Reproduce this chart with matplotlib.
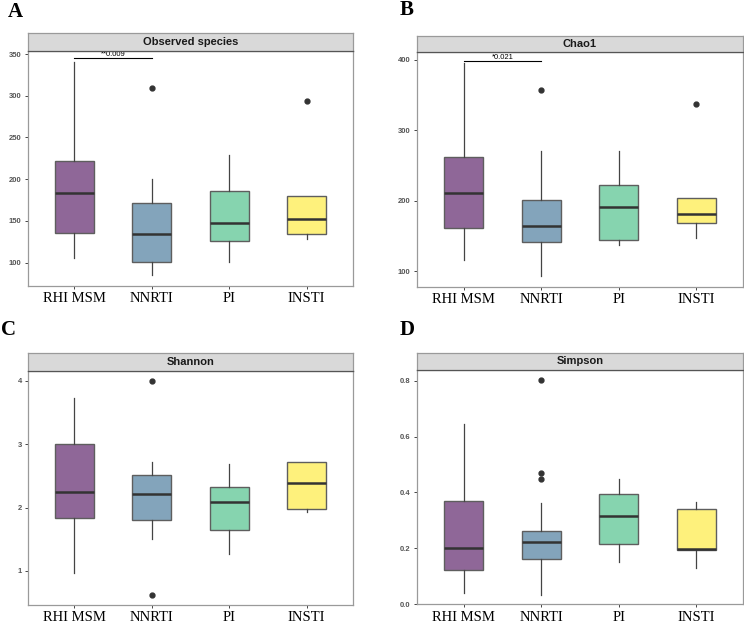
import matplotlib.pyplot as plt

groups = ["RHI MSM", "NNRTI", "PI", "INSTI"]
colors = ["#8F6798", "#83A4BB", "#86D4AF", "#FEF17C"]

# Observed species
obs_low = [106, 85, 101, 128]
obs_q1 = [135, 101, 126, 134]
obs_med = [183, 134, 147, 152]
obs_q3 = [222, 171, 186, 180]
obs_high = [341, 200, 229, 180]
obs_out = [[], [309], [], [294]]

# Chao1
chao_low = [116, 93, 138, 148]
chao_q1 = [162, 141, 144, 168]
chao_med = [211, 165, 191, 181]
chao_q3 = [262, 201, 223, 204]
chao_high = [396, 271, 271, 204]
chao_out = [[], [357], [], [338]]

# Shannon
sha_low = [0.96, 1.51, 1.27, 1.93]
sha_q1 = [1.83, 1.80, 1.65, 1.98]
sha_med = [2.25, 2.21, 2.08, 2.38]
sha_q3 = [3.00, 2.52, 2.33, 2.72]
sha_high = [3.73, 2.72, 2.68, 2.72]
sha_out = [[], [4.0, 0.62], [], []]

# Simpson
sim_low = [0.039, 0.034, 0.152, 0.130]
sim_q1 = [0.122, 0.162, 0.214, 0.194]
sim_med = [0.201, 0.223, 0.315, 0.199]
sim_q3 = [0.369, 0.262, 0.395, 0.340]
sim_high = [0.646, 0.362, 0.449, 0.367]
sim_out = [[], [0.802, 0.470, 0.449], [], []]

# significance annotations (RHI MSM vs NNRTI)
obs_sig = ("**0.009", 345)
chao_sig = ("*0.021", 398.6)

W, H = 744, 623


def frac(x0, y_top, x1, y_bot):
    return [x0 / W, 1 - y_bot / H, (x1 - x0) / W, (y_bot - y_top) / H]


def make_stats(low, q1, med, q3, high, out):
    return [dict(whislo=a, q1=b, med=c, q3=d, whishi=e, fliers=f)
            for a, b, c, d, e, f in zip(low, q1, med, q3, high, out)]


panels = [
    ("A", (15, 12), "Observed species", (28, 33.3, 353, 51, 286), (72, 353.6),
     [100, 150, 200, 250, 300, 350], "{:.0f}",
     make_stats(obs_low, obs_q1, obs_med, obs_q3, obs_high, obs_out), obs_sig),
    ("B", (407, 10), "Chao1", (417, 35.7, 743, 52.3, 287), (77.8, 410.9),
     [100, 200, 300, 400], "{:.0f}",
     make_stats(chao_low, chao_q1, chao_med, chao_q3, chao_high, chao_out), chao_sig),
    ("C", (8, 330), "Shannon", (28, 353.3, 353, 370.7, 605), (0.463, 4.158),
     [1, 2, 3, 4], "{:.0f}",
     make_stats(sha_low, sha_q1, sha_med, sha_q3, sha_high, sha_out), None),
    ("D", (407, 330), "Simpson", (417, 352.7, 743, 370, 604.3), (-0.001, 0.839),
     [0.0, 0.2, 0.4, 0.6, 0.8], "{:.1f}",
     make_stats(sim_low, sim_q1, sim_med, sim_q3, sim_high, sim_out), None),
]

fig = plt.figure(figsize=(W / 100, H / 100), dpi=100)

for letter, lpos, title, (x0, s_top, x1, p_top, p_bot), ylim, yticks, fmt, stats, sig in panels:
    ax = fig.add_axes(frac(x0, p_top, x1, p_bot))
    bp = ax.bxp(stats, positions=[1, 2, 3, 4], widths=0.5, patch_artist=True,
                showcaps=False,
                boxprops=dict(edgecolor="#5E5E5E", linewidth=1.0),
                medianprops=dict(color="#333333", linewidth=1.8),
                whiskerprops=dict(color="#444444", linewidth=0.9),
                flierprops=dict(marker="o", markerfacecolor="#333333",
                                markeredgecolor="#333333", markersize=3.5))
    for patch, c in zip(bp["boxes"], colors):
        patch.set_facecolor(c)

    ax.set_xlim(0.4, 4.6)
    ax.set_ylim(*ylim)
    ax.set_xticks([1, 2, 3, 4])
    ax.set_xticklabels(groups, fontfamily="Liberation Serif", fontsize=10.5, color="black")
    ax.set_yticks(yticks)
    ax.set_yticklabels([fmt.format(v) for v in yticks], fontfamily="Liberation Sans",
                       fontsize=5.5, fontweight="bold", color="#555555")
    ax.tick_params(axis="both", length=2.5, width=0.7, color="#444444", pad=2)
    for sp in ax.spines.values():
        sp.set_color("#9A9A9A")
        sp.set_linewidth(0.9)

    if sig is not None:
        label, y = sig
        ax.plot([1, 2], [y, y], color="black", linewidth=0.8)
        ax.text(1.5, y, label, ha="center", va="bottom", fontsize=5.5,
                fontfamily="Liberation Sans", color="black")

    # facet strip
    sx = fig.add_axes(frac(x0, s_top, x1, p_top))
    sx.set_facecolor("#D9D9D9")
    sx.set_xticks([])
    sx.set_yticks([])
    for sp in sx.spines.values():
        sp.set_color("#9A9A9A")
        sp.set_linewidth(0.9)
    sx.spines["bottom"].set_color("#555555")
    sx.text(0.5, 0.5, title, ha="center", va="center", fontsize=8,
            fontweight="bold", fontfamily="Liberation Sans", color="#1A1A1A",
            transform=sx.transAxes)

    fig.text(lpos[0] / W, 1 - lpos[1] / H, letter, ha="center", va="center",
             fontsize=15, fontweight="bold", fontfamily="Liberation Serif", color="black")

fig.savefig("out.png", dpi=100)
